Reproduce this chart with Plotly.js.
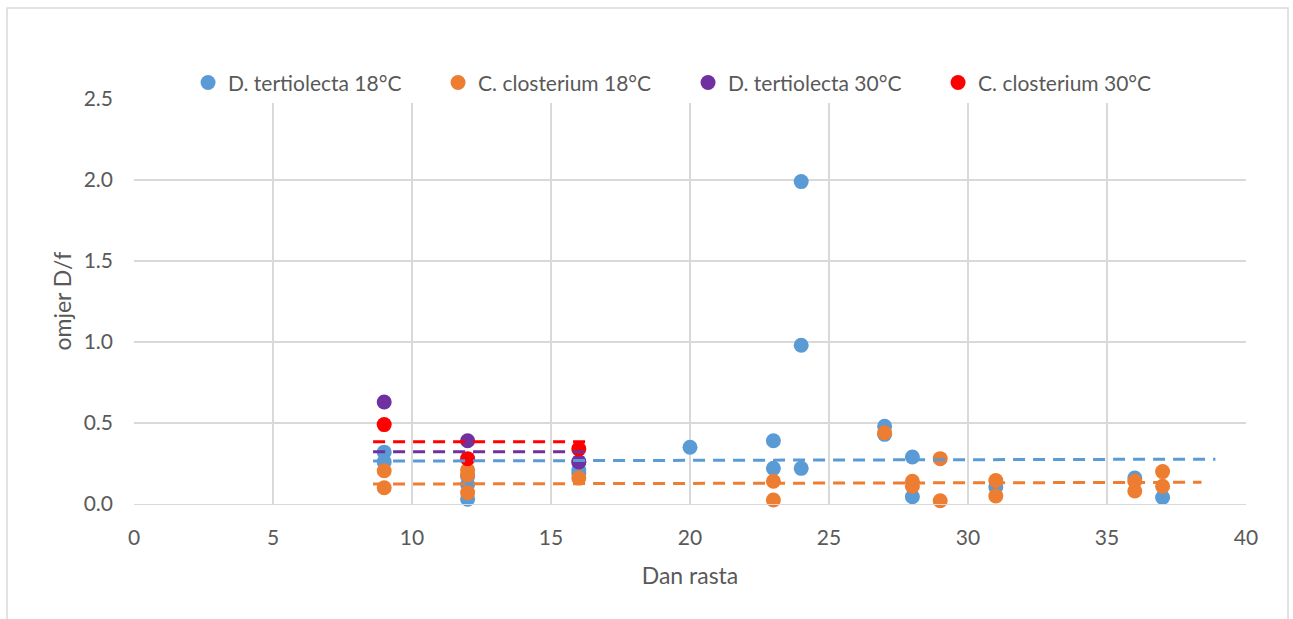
<!DOCTYPE html>
<html><head><meta charset="utf-8">
<script src="https://cdn.plot.ly/plotly-3.0.1.min.js"></script>
<style>html,body{margin:0;padding:0;background:#fff;}#chart{width:1293px;height:619px;}</style>
</head><body><div id="chart"></div>
<script>
// Data
const seriesNames = ["D. tertiolecta 18°C", "C. closterium 18°C", "D. tertiolecta 30°C", "C. closterium 30°C"];
const dt18_x = [9, 9, 12, 12, 12, 16, 16, 16, 20, 23, 23, 24, 24, 24, 27, 27, 28, 28, 31, 36, 37];
const dt18_y = [0.32, 0.26, 0.17, 0.12, 0.03, 0.26, 0.21, 0.19, 0.35, 0.39, 0.22, 1.99, 0.98, 0.22, 0.48, 0.43, 0.29, 0.045, 0.105, 0.16, 0.04];
const cc18_x = [9, 9, 12, 12, 12, 16, 23, 23, 27, 28, 28, 29, 29, 31, 31, 36, 36, 37, 37];
const cc18_y = [0.205, 0.10, 0.21, 0.18, 0.07, 0.16, 0.14, 0.025, 0.44, 0.14, 0.11, 0.28, 0.02, 0.145, 0.05, 0.14, 0.08, 0.20, 0.11];
const dt30_x = [9, 12, 16];
const dt30_y = [0.63, 0.39, 0.26];
const cc30_x = [9, 12, 16];
const cc30_y = [0.49, 0.28, 0.34];
// Trendline endpoints
const dt18_trend_x = [8.6, 38.9], dt18_trend_y = [0.265, 0.277];
const cc18_trend_x = [8.6, 38.4], cc18_trend_y = [0.123, 0.134];
const dt30_trend_x = [8.6, 16.2], dt30_trend_y = [0.323, 0.323];
const cc30_trend_x = [8.6, 16.3], cc30_trend_y = [0.385, 0.385];
const xTicks = [0, 5, 10, 15, 20, 25, 30, 35, 40];
const yTicks = [0, 0.5, 1.0, 1.5, 2.0, 2.5];
const xTitle = 'Dan rasta';
const yTitle = 'omjer D/f';

const colors = ["#5B9BD5", "#ED7D31", "#7030A0", "#FF0000"];
const xs = [dt18_x, cc18_x, dt30_x, cc30_x];
const ys = [dt18_y, cc18_y, dt30_y, cc30_y];
const txs = [dt18_trend_x, cc18_trend_x, dt30_trend_x, cc30_trend_x];
const tys = [dt18_trend_y, cc18_trend_y, dt30_trend_y, cc30_trend_y];

const traces = [];
for (let i = 0; i < 4; i++) {
  traces.push({x: xs[i], y: ys[i], type: 'scatter', mode: 'markers', name: seriesNames[i],
    marker: {color: colors[i], size: 15, line: {width: 0}}, cliponaxis: false});
}
for (let i = 0; i < 4; i++) {
  traces.push({x: txs[i], y: tys[i], type: 'scatter', mode: 'lines', showlegend: false, hoverinfo: 'skip',
    line: {color: colors[i], width: 3, dash: '12px,8px'}});
}

const font = "Lato, 'Open Sans', sans-serif";
const layout = {
  width: 1293, height: 619,
  margin: {l: 134, r: 47, t: 99, b: 115},
  paper_bgcolor: '#fff', plot_bgcolor: '#fff',
  font: {family: font, color: '#595959', size: 21},
  showlegend: true,
  legend: {orientation: 'h', x: 0.0486, xanchor: 'left', y: 1.04, yanchor: 'middle',
    font: {size: 21, color: '#595959'}, itemwidth: 30, entrywidth: 205, entrywidthmode: 'pixels'},
  xaxis: {range: [0, 40], tickvals: xTicks, ticktext: xTicks.map(String), showgrid: true, gridcolor: '#d9d9d9', gridwidth: 1.3,
    zeroline: false, showline: true, linecolor: '#d9d9d9', linewidth: 1.3, ticks: '', ticklabelstandoff: 14,
    tickfont: {size: 21, color: '#595959'},
    title: {text: xTitle, font: {size: 23, color: '#595959'}, standoff: 20}},
  yaxis: {range: [0, 2.5], tickvals: yTicks, ticktext: yTicks.map(v => v.toFixed(1)), showgrid: true, gridcolor: '#d9d9d9', gridwidth: 1.3,
    zeroline: false, showline: false, ticks: '', ticklabelstandoff: 20, tickfont: {size: 21, color: '#595959'}},
  annotations: [{text: yTitle, xref: 'paper', yref: 'paper', x: -0.0656, y: 0.5, xanchor: 'center', yanchor: 'middle',
    textangle: -90, showarrow: false, font: {size: 23, color: '#595959'}}],
  shapes: [{type: 'rect', xref: 'paper', yref: 'paper', x0: -0.1142, x1: 1.0378, y0: -0.30, y1: 1.2247,
    line: {color: '#d9d9d9', width: 1.5}, fillcolor: 'rgba(0,0,0,0)', layer: 'below'}]
};
Plotly.newPlot('chart', traces, layout, {displayModeBar: false, staticPlot: true});
</script></body></html>
